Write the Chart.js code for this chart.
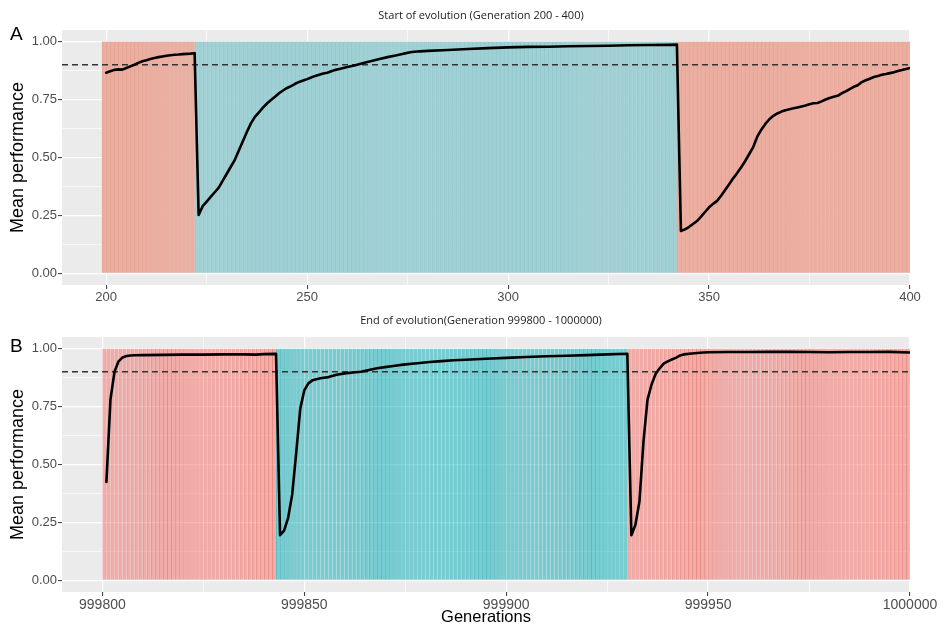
<!DOCTYPE html>
<html>
<head>
<meta charset="utf-8">
<script src="https://cdn.jsdelivr.net/npm/chart.js@4.4.1/dist/chart.umd.min.js"></script>
<style>
  body { margin: 0; background: #fff; }
  .fig { position: relative; width: 948px; height: 626px; }
  .fig canvas { position: absolute; left: 0; }
  #chartA { top: 0; }
  #chartB { top: 310px; }
</style>
</head>
<body>
<div class="fig">
  <canvas id="chartA" width="948" height="310"></canvas>
  <canvas id="chartB" width="948" height="316"></canvas>
</div>
<script>
// shared
const THRESHOLD = 0.9;
const yMajor = [0, 0.25, 0.5, 0.75, 1];
const yMinor = [0.125, 0.375, 0.625, 0.875];

// Panel A - start of evolution
const xMajorA = [200, 250, 300, 350, 400];
const xMinorA = [225, 275, 325, 375];
const envStartA = [199, 222, 342];
const envEndA = [222, 342, 400];
const envA = [1, 2, 1];
const genA = [
  200, 201, 202, 203, 204, 205, 206, 207, 208, 209, 210, 211, 212, 213, 214, 215, 216, 217, 218, 219, 220, 221, 222,
  223, 224, 225, 226, 227, 228, 229, 230, 231, 232, 233, 234, 235, 236, 237, 238, 239, 240, 241, 242, 243, 244,
  245, 246, 247, 248, 249, 250, 251, 252, 253, 254, 255, 256, 257, 258, 259, 260,
  262, 264, 266, 268, 270, 272, 274, 276, 278, 280, 285, 290, 295, 300, 305, 310, 315, 320, 325, 330, 335, 340, 342,
  343, 344, 345, 346, 347, 348, 349, 350, 351, 352, 353, 354, 355, 356, 357, 358, 359, 360, 361, 362, 363, 364,
  365, 366, 367, 368, 369, 370, 371, 372, 373, 374, 375, 376, 377, 378, 379, 380, 381, 382, 383, 384, 385, 386,
  387, 388, 389, 390, 391, 392, 393, 394, 395, 396, 397, 398, 399, 400
];
const perfA = [
  0.866, 0.872, 0.878, 0.880, 0.879, 0.886, 0.893, 0.900, 0.908, 0.915, 0.920, 0.925, 0.929, 0.933, 0.936, 0.939,
  0.941, 0.943, 0.944, 0.946, 0.947, 0.948, 0.950,
  0.252, 0.290, 0.310, 0.330, 0.350, 0.370, 0.400, 0.430, 0.460, 0.490, 0.530, 0.570, 0.610, 0.647, 0.675, 0.695,
  0.715, 0.733, 0.748, 0.762, 0.777, 0.789, 0.800, 0.808, 0.818, 0.826, 0.832, 0.838, 0.845, 0.852, 0.857, 0.862,
  0.866, 0.872, 0.878, 0.882, 0.886, 0.890,
  0.898, 0.908, 0.916, 0.925, 0.933, 0.940, 0.948, 0.955, 0.958, 0.960, 0.964, 0.968, 0.972, 0.975, 0.977, 0.978,
  0.980, 0.981, 0.982, 0.984, 0.985, 0.986, 0.987,
  0.183, 0.190, 0.200, 0.213, 0.226, 0.245, 0.265, 0.285, 0.300, 0.313, 0.335, 0.360, 0.385, 0.410, 0.433, 0.458,
  0.485, 0.515, 0.545, 0.590, 0.620, 0.645, 0.665, 0.680, 0.690, 0.698, 0.704, 0.708, 0.712, 0.716, 0.720, 0.724,
  0.730, 0.734, 0.735, 0.742, 0.750, 0.757, 0.762, 0.766, 0.777, 0.785, 0.795, 0.805, 0.812, 0.825, 0.833, 0.840,
  0.847, 0.852, 0.857, 0.860, 0.864, 0.868, 0.873, 0.877, 0.882, 0.886
];

// Panel B - end of evolution
const xMajorB = [999800, 999850, 999900, 999950, 1000000];
const xMinorB = [999825, 999875, 999925, 999975];
const envStartB = [999800, 999843, 999930];
const envEndB = [999843, 999930, 1000000];
const envB = [1, 2, 1];
const genB = [
  999801, 999802, 999803, 999804, 999805, 999806, 999807, 999808, 999810, 999815, 999820, 999825, 999830, 999835,
  999838, 999840, 999843,
  999844, 999845, 999846, 999847, 999848, 999849, 999850, 999851, 999852, 999853, 999854, 999856, 999858, 999860,
  999862, 999864, 999866, 999868, 999870, 999872, 999875, 999878, 999881, 999884, 999887, 999890, 999895, 999900,
  999905, 999910, 999915, 999920, 999925, 999930,
  999931, 999932, 999933, 999934, 999935, 999936, 999937, 999938, 999939, 999940, 999941, 999942, 999943, 999944,
  999946, 999948, 999950, 999955, 999960, 999965, 999970, 999975, 999980, 999985, 999990, 999995, 1000000
];
const perfB = [
  0.425, 0.780, 0.900, 0.945, 0.962, 0.968, 0.970, 0.971, 0.972, 0.973, 0.974, 0.974, 0.975, 0.975, 0.974, 0.976, 0.977,
  0.195, 0.215, 0.270, 0.370, 0.550, 0.740, 0.820, 0.850, 0.863, 0.868, 0.872, 0.877, 0.887, 0.893, 0.897, 0.900,
  0.908, 0.915, 0.920, 0.925, 0.932, 0.937, 0.942, 0.946, 0.950, 0.952, 0.956, 0.960, 0.964, 0.967, 0.969, 0.972,
  0.975, 0.978,
  0.195, 0.240, 0.340, 0.600, 0.780, 0.845, 0.890, 0.915, 0.935, 0.945, 0.953, 0.960, 0.970, 0.975, 0.979, 0.982,
  0.984, 0.985, 0.985, 0.986, 0.986, 0.985, 0.984, 0.985, 0.985, 0.986, 0.983
];

// one bar per generation, colored by environment
function envBars(starts, ends, envs, which) {
  const pts = [];
  starts.forEach((s, i) => {
    if (envs[i] !== which) return;
    for (let g = s; g < ends[i]; g++) pts.push({ x: g + 0.5, y: [0, 1] });
  });
  return pts;
}

const panelDecor = {
  id: 'panelDecor',
  beforeDraw(chart) {
    const { ctx, chartArea: a } = chart;
    ctx.save();
    ctx.fillStyle = '#EBEBEB';
    ctx.fillRect(a.left, a.top, a.right - a.left, a.bottom - a.top);
    ctx.restore();
  },
  afterDraw(chart, args, opts) {
    const ctx = chart.ctx;
    ctx.save();
    ctx.fillStyle = '#000';
    ctx.font = '19px "Liberation Sans", Arial, sans-serif';
    ctx.textAlign = 'left';
    ctx.textBaseline = 'alphabetic';
    ctx.fillText(opts.letter, 10, opts.letterY);
    ctx.fillStyle = '#222';
    ctx.font = '11px "Open Sans", sans-serif';
    ctx.textAlign = 'center';
    ctx.fillText(opts.title, 481, opts.titleY);
    ctx.restore();
  }
};

function makePanel(id, p) {
  const line = p.gens.map((g, i) => ({ x: g, y: p.perf[i] }));
  const barBase = {
    type: 'bar',
    borderWidth: { left: 1, right: 0, top: 0, bottom: 0 },
    borderSkipped: false,
    barPercentage: 1,
    categoryPercentage: 1,
    grouped: false,
    inflateAmount: p.inflate,
    order: 2
  };
  const isMajor = (list, c) => !!(c && c.tick) && list.includes(c.tick.value);
  return new Chart(document.getElementById(id), {
    type: 'line',
    data: {
      datasets: [
        { type: 'line', data: line, borderColor: '#000', borderWidth: 2.6, pointRadius: 0, tension: 0,
          borderJoinStyle: 'round', borderCapStyle: 'round', order: 0 },
        { type: 'line', data: [{ x: p.xMin, y: THRESHOLD }, { x: p.xMax, y: THRESHOLD }], borderColor: '#333',
          borderWidth: 1.5, borderDash: [6, 4], pointRadius: 0, order: 1 },
        Object.assign({ data: envBars(p.starts, p.ends, p.envs, 1), backgroundColor: p.red, borderColor: p.redLine }, barBase),
        Object.assign({ data: envBars(p.starts, p.ends, p.envs, 2), backgroundColor: p.teal, borderColor: p.tealLine }, barBase)
      ]
    },
    options: {
      responsive: false,
      animation: false,
      devicePixelRatio: 1,
      layout: { padding: { top: p.padTop, right: 38, bottom: 0, left: 0 } },
      plugins: {
        legend: { display: false },
        tooltip: { enabled: false },
        panelDecor: { letter: p.letter, letterY: p.letterY, title: p.title, titleY: p.titleY }
      },
      scales: {
        x: {
          type: 'linear',
          offset: false,
          min: p.xMin,
          max: p.xMax,
          afterBuildTicks: ax => { ax.ticks = p.xMajor.concat(p.xMinor).sort((a, b) => a - b).map(v => ({ value: v })); },
          afterFit: s => { s.height = p.xAxisH; },
          border: { display: false },
          grid: {
            offset: false,
            color: '#fff',
            lineWidth: c => isMajor(p.xMajor, c) ? 1.2 : 0.6,
            tickColor: c => isMajor(p.xMajor, c) ? '#333' : 'rgba(0,0,0,0)',
            tickWidth: 1,
            tickLength: 4
          },
          ticks: {
            autoSkip: false,
            maxRotation: 0,
            padding: 1,
            color: '#4D4D4D',
            font: { family: '"Liberation Sans", Arial, sans-serif', size: p.xTickSize },
            callback: v => p.xMajor.includes(v) ? String(v) : ''
          },
          title: {
            display: !!p.xTitle,
            text: p.xTitle,
            color: '#000',
            padding: { top: 0, bottom: -1 },
            font: { family: '"Liberation Sans", Arial, sans-serif', size: 16.5 }
          }
        },
        y: {
          min: -0.05,
          max: 1.05,
          afterBuildTicks: ax => { ax.ticks = yMajor.concat(yMinor).sort((a, b) => a - b).map(v => ({ value: v })); },
          afterFit: s => { s.width = 62; },
          border: { display: false },
          grid: {
            color: '#fff',
            lineWidth: c => isMajor(yMajor, c) ? 1.2 : 0.6,
            tickColor: c => isMajor(yMajor, c) ? '#333' : 'rgba(0,0,0,0)',
            tickWidth: 1,
            tickLength: 4
          },
          ticks: {
            padding: 1,
            color: '#4D4D4D',
            font: { family: '"Liberation Sans", Arial, sans-serif', size: 13 },
            callback: v => yMajor.includes(v) ? v.toFixed(2) : ''
          },
          title: {
            display: true,
            text: 'Mean performance',
            color: '#000',
            padding: { top: 7, bottom: 0 },
            font: { family: '"Liberation Sans", Arial, sans-serif', size: 18 }
          }
        }
      }
    },
    plugins: [panelDecor]
  });
}

makePanel('chartA', {
  gens: genA, perf: perfA, starts: envStartA, ends: envEndA, envs: envA,
  xMajor: xMajorA, xMinor: xMinorA, xMin: 189, xMax: 400,
  padTop: 30, xAxisH: 25, xTickSize: 13, xTitle: '', inflate: 0.33,
  letter: 'A', letterY: 40, title: 'Start of evolution (Generation 200 - 400)', titleY: 19,
  red: '#ECAEA0', redLine: '#E6A494',
  teal: '#9ED0D4', tealLine: '#93C8CD'
});

makePanel('chartB', {
  gens: genB, perf: perfB, starts: envStartB, ends: envEndB, envs: envB,
  xMajor: xMajorB, xMinor: xMinorB, xMin: 999790, xMax: 1000000,
  padTop: 27, xAxisH: 34, xTickSize: 14, xTitle: 'Generations', inflate: 0,
  letter: 'B', letterY: 42, title: 'End of evolution(Generation 999800 - 1000000)', titleY: 14,
  red: 'rgba(248,118,109,0.55)', redLine: 'rgba(232,110,100,0.75)',
  teal: 'rgba(0,175,185,0.5)', tealLine: 'rgba(0,160,170,0.62)'
});
</script>
</body>
</html>
